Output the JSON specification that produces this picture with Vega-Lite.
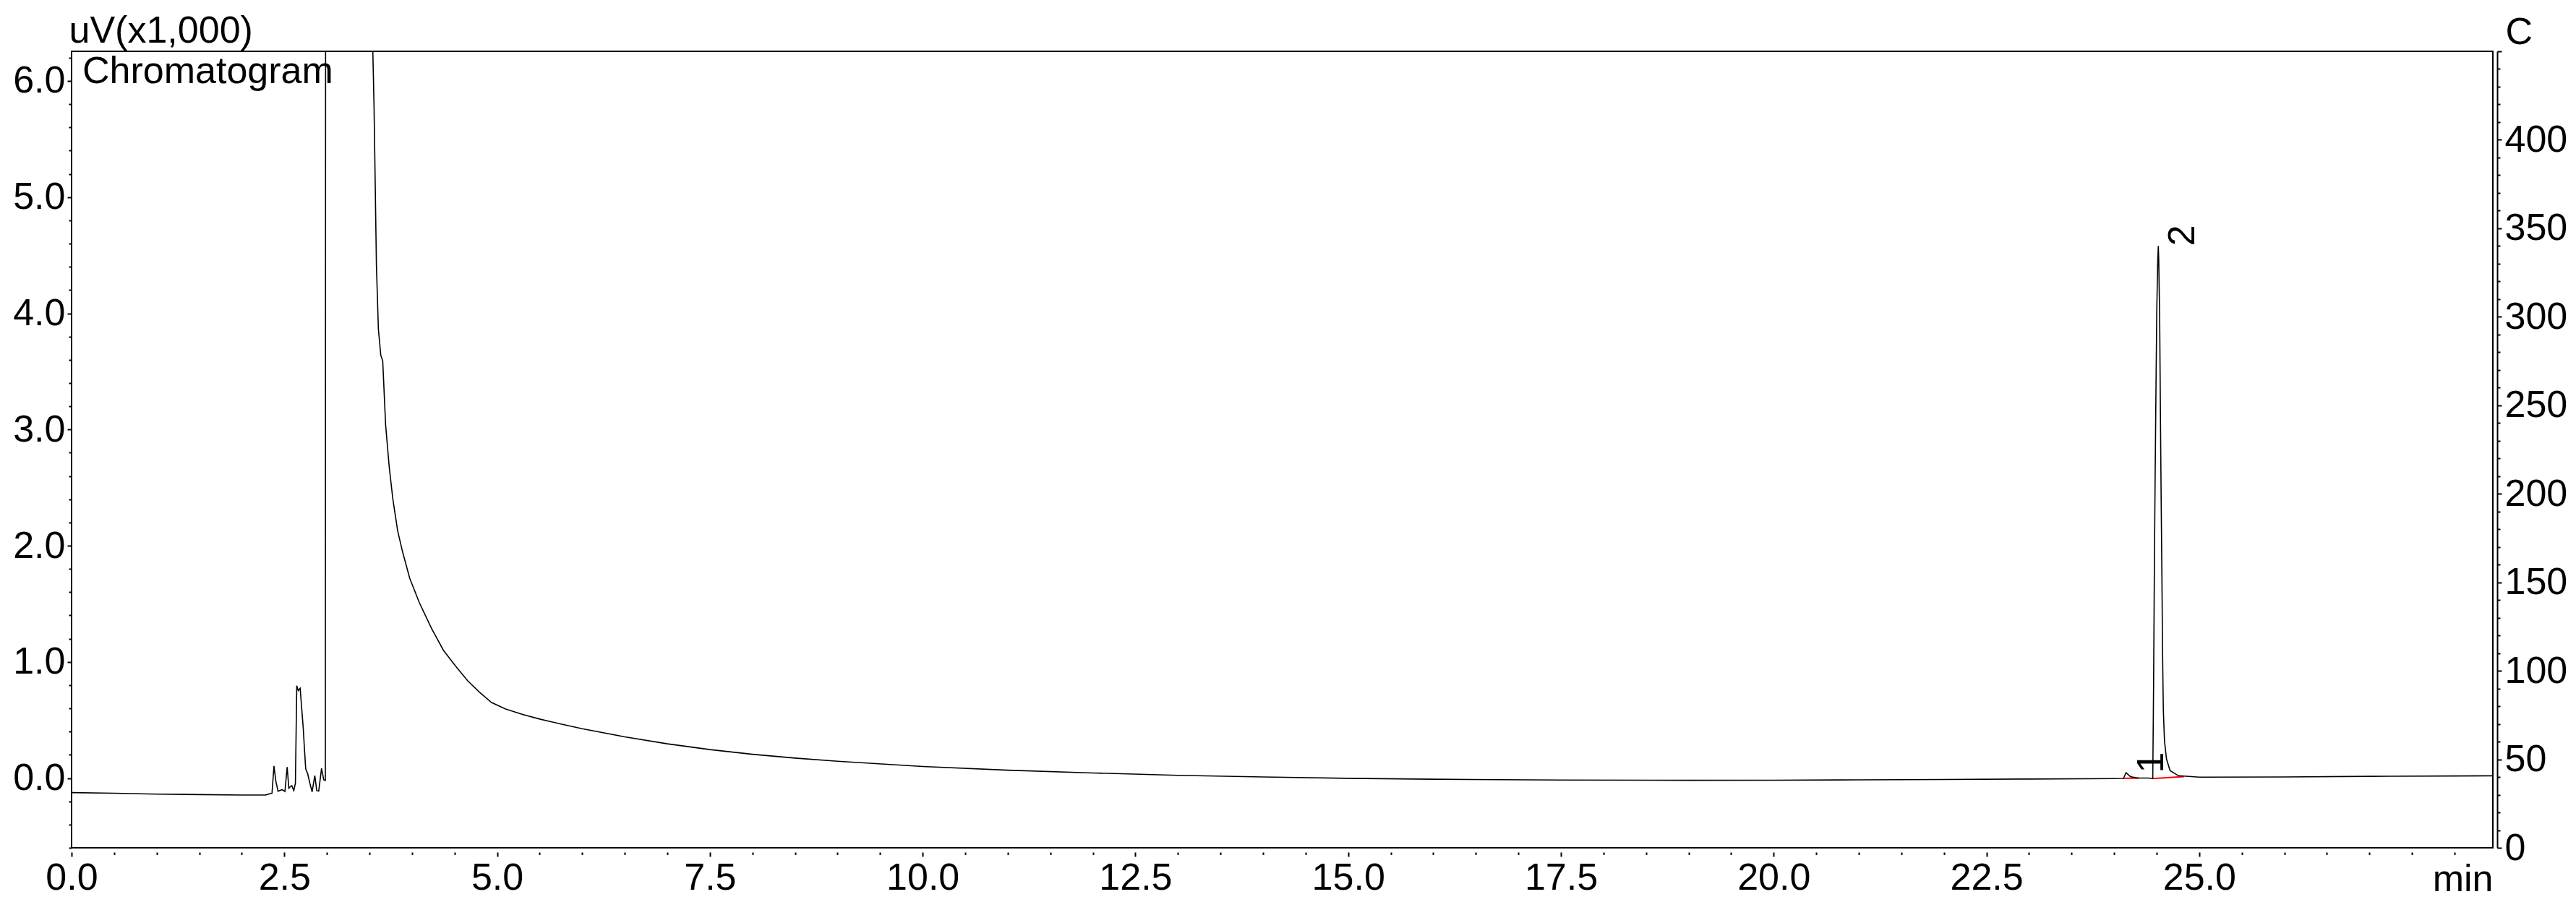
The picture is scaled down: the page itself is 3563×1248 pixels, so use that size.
{
  "$schema": "https://vega.github.io/schema/vega-lite/v6.json",
  "autosize": {"type": "none"},
  "width": 3349,
  "height": 1102,
  "padding": {"left": 99, "top": 71, "right": 115, "bottom": 75},
  "background": "white",
  "config": {
    "view": {"stroke": "black", "strokeWidth": 2},
    "font": "Liberation Sans",
    "axis": {"labelColor": "black", "tickColor": "black", "domainColor": "black", "titleColor": "black", "titleFontWeight": "normal", "labelFont": "Liberation Sans", "titleFont": "Liberation Sans", "labelFontSize": 52, "titleFontSize": 52, "grid": false, "labelOverlap": false, "labelFlush": false, "tickWidth": 2}
  },
  "datasets": {
    "trace": [
      {"t": 0, "v": -0.125}, {"t": 0.5, "v": -0.13}, {"t": 1.0, "v": -0.138}, {"t": 1.5, "v": -0.142},
      {"t": 2.0, "v": -0.146}, {"t": 2.28, "v": -0.145}, {"t": 2.355, "v": -0.13}, {"t": 2.378, "v": 0.104},
      {"t": 2.4, "v": -0.025}, {"t": 2.426, "v": -0.114}, {"t": 2.45, "v": -0.105}, {"t": 2.475, "v": -0.1},
      {"t": 2.507, "v": -0.115}, {"t": 2.533, "v": 0.095}, {"t": 2.553, "v": -0.087}, {"t": 2.575, "v": -0.07},
      {"t": 2.588, "v": -0.066}, {"t": 2.611, "v": -0.108}, {"t": 2.63, "v": -0.045}, {"t": 2.646, "v": 0.795},
      {"t": 2.664, "v": 0.753}, {"t": 2.686, "v": 0.773}, {"t": 2.702, "v": 0.618}, {"t": 2.722, "v": 0.431},
      {"t": 2.735, "v": 0.266}, {"t": 2.751, "v": 0.079}, {"t": 2.774, "v": 0.037}, {"t": 2.8, "v": -0.045},
      {"t": 2.826, "v": -0.118}, {"t": 2.858, "v": 0.021}, {"t": 2.881, "v": -0.108}, {"t": 2.904, "v": -0.112},
      {"t": 2.937, "v": 0.083}, {"t": 2.963, "v": -0.015}, {"t": 2.982, "v": -0.02}, {"t": 2.995, "v": 30},
      {"t": 3.53, "v": 30}, {"t": 3.54, "v": 6.25}, {"t": 3.554, "v": 5.78}, {"t": 3.568, "v": 5.1},
      {"t": 3.582, "v": 4.41}, {"t": 3.605, "v": 3.865}, {"t": 3.633, "v": 3.64}, {"t": 3.656, "v": 3.59},
      {"t": 3.69, "v": 3.04}, {"t": 3.732, "v": 2.68}, {"t": 3.775, "v": 2.4}, {"t": 3.831, "v": 2.13},
      {"t": 3.888, "v": 1.95}, {"t": 3.973, "v": 1.72}, {"t": 4.086, "v": 1.51}, {"t": 4.228, "v": 1.29},
      {"t": 4.369, "v": 1.1}, {"t": 4.51, "v": 0.966}, {"t": 4.653, "v": 0.838}, {"t": 4.794, "v": 0.738},
      {"t": 4.935, "v": 0.65}, {"t": 5.1, "v": 0.595}, {"t": 5.3, "v": 0.548}, {"t": 5.5, "v": 0.508},
      {"t": 5.75, "v": 0.465}, {"t": 6.0, "v": 0.425}, {"t": 6.5, "v": 0.355}, {"t": 7.0, "v": 0.295},
      {"t": 7.5, "v": 0.245}, {"t": 8.0, "v": 0.205}, {"t": 8.5, "v": 0.172}, {"t": 9.0, "v": 0.145},
      {"t": 10.0, "v": 0.1}, {"t": 11.0, "v": 0.068}, {"t": 12.0, "v": 0.044}, {"t": 13.0, "v": 0.024},
      {"t": 14.0, "v": 0.01}, {"t": 15.0, "v": -0.002}, {"t": 16.0, "v": -0.01},
      {"t": 17.5, "v": -0.017}, {"t": 19.0, "v": -0.019}, {"t": 20.0, "v": -0.018},
      {"t": 21.0, "v": -0.015}, {"t": 22.0, "v": -0.012}, {"t": 23.0, "v": -0.008}, {"t": 24.0, "v": -0.004},
      {"t": 24.11, "v": -0.003}, {"t": 24.14, "v": 0.047}, {"t": 24.19, "v": 0.013}, {"t": 24.275, "v": 0.0},
      {"t": 24.4, "v": 0.0}, {"t": 24.454, "v": -0.004}, {"t": 24.465, "v": 0.924}, {"t": 24.473, "v": 1.834},
      {"t": 24.482, "v": 2.61}, {"t": 24.493, "v": 3.45}, {"t": 24.502, "v": 4.06}, {"t": 24.513, "v": 4.465},
      {"t": 24.519, "v": 4.58}, {"t": 24.524, "v": 4.465}, {"t": 24.535, "v": 3.96}, {"t": 24.544, "v": 3.12},
      {"t": 24.552, "v": 2.44}, {"t": 24.561, "v": 1.77}, {"t": 24.569, "v": 1.09}, {"t": 24.578, "v": 0.587},
      {"t": 24.592, "v": 0.317}, {"t": 24.615, "v": 0.165}, {"t": 24.657, "v": 0.064}, {"t": 24.756, "v": 0.02},
      {"t": 25.0, "v": 0.008}, {"t": 26.0, "v": 0.01}, {"t": 27.0, "v": 0.015}, {"t": 28.0, "v": 0.018},
      {"t": 28.45, "v": 0.02}
    ],
    "baselines": [
      {"seg": "p1", "t": 24.1, "v": -0.003}, {"seg": "p1", "t": 24.29, "v": 0.0},
      {"seg": "p2", "t": 24.45, "v": -0.004}, {"seg": "p2", "t": 24.82, "v": 0.012}
    ],
    "peaks": [
      {"lab": "1", "t": 24.575, "v": 0.044},
      {"lab": "2", "t": 24.94, "v": 4.58}
    ]
  },
  "resolve": {"axis": {"x": "independent", "y": "independent"}},
  "layer": [
    {
      "data": {"name": "baselines"},
      "mark": {"type": "line", "color": "#ff0000", "strokeWidth": 2, "clip": true},
      "encoding": {
        "x": {"field": "t", "type": "quantitative", "scale": {"domain": [0, 28.45], "nice": false, "zero": false}, "axis": null},
        "y": {"field": "v", "type": "quantitative", "scale": {"domain": [-0.6, 6.255], "nice": false, "zero": false}, "axis": null},
        "detail": {"field": "seg"}
      }
    },
    {
      "data": {"name": "trace"},
      "mark": {"type": "line", "color": "black", "strokeWidth": 1.6, "clip": true, "interpolate": "linear"},
      "encoding": {
        "x": {
          "field": "t", "type": "quantitative",
          "scale": {"domain": [0, 28.45], "nice": false, "zero": false},
          "axis": {
            "title": "min",
            "values": [0,0.5,1,1.5,2,2.5,3,3.5,4,4.5,5,5.5,6,6.5,7,7.5,8,8.5,9,9.5,10,10.5,11,11.5,12,12.5,13,13.5,14,14.5,15,15.5,16,16.5,17,17.5,18,18.5,19,19.5,20,20.5,21,21.5,22,22.5,23,23.5,24,24.5,25,25.5,26,26.5,27,27.5,28],
            "labelExpr": "datum.value <= 25 && abs(datum.value/2.5 - round(datum.value/2.5)) < 0.001 ? format(datum.value, '.1f') : ''",
            "tickSize": {"condition": {"test": "datum.value <= 25 && abs(datum.value/2.5 - round(datum.value/2.5)) < 0.001", "value": 6}, "value": 3.5},
            "labelOverlap": false,
            "offset": 6,
            "domain": false,
            "labelPadding": 4,
            "titleAlign": "right",
            "titleAnchor": "end",
            "titleX": 3349,
            "titleY": 53,
            "titleBaseline": "alphabetic"
          }
        },
        "y": {
          "field": "v", "type": "quantitative",
          "scale": {"domain": [-0.6, 6.255], "nice": false, "zero": false},
          "axis": {
            "title": "uV(x1,000)",
            "values": [-0.6,-0.4,-0.2,0,0.2,0.4,0.6,0.8,1,1.2,1.4,1.6,1.8,2,2.2,2.4,2.6,2.8,3,3.2,3.4,3.6,3.8,4,4.2,4.4,4.6,4.8,5,5.2,5.4,5.6,5.8,6,6.2],
            "labelExpr": "abs(datum.value - round(datum.value)) < 0.001 ? format(datum.value, '.1f') : ''",
            "tickSize": {"condition": {"test": "abs(datum.value - round(datum.value)) < 0.001", "value": 6}, "value": 4},
            "labelOverlap": false,
            "domain": false,
            "labelPadding": 3,
            "titleAngle": 0,
            "titleAlign": "left",
            "titleAnchor": "start",
            "titleBaseline": "alphabetic",
            "titleX": -4,
            "titleY": -12.5
          }
        }
      }
    },
    {
      "data": {"name": "peaks"},
      "mark": {"type": "text", "angle": 270, "align": "left", "baseline": "alphabetic", "fontSize": 52, "font": "Liberation Sans", "color": "black"},
      "encoding": {
        "x": {"field": "t", "type": "quantitative", "axis": null},
        "y": {"field": "v", "type": "quantitative", "axis": null},
        "text": {"field": "lab"}
      }
    },
    {
      "data": {"values": [{"name": "Chromatogram"}]},
      "mark": {"type": "text", "align": "left", "baseline": "alphabetic", "fontSize": 52, "font": "Liberation Sans", "color": "black", "dx": 15, "dy": 44},
      "encoding": {
        "x": {"datum": 0, "type": "quantitative", "axis": null},
        "y": {
          "datum": 6.255, "type": "quantitative",
          "axis": {
            "orient": "right",
            "title": "C",
            "values": [-0.6,-0.44767,-0.29533,-0.143,0.00933,0.16167,0.314,0.46633,0.61867,0.771,0.92333,1.07567,1.228,1.38033,1.53267,1.685,1.83733,1.98967,2.142,2.29433,2.44667,2.599,2.75133,2.90367,3.056,3.20833,3.36067,3.513,3.66533,3.81767,3.97,4.12233,4.27467,4.427,4.57933,4.73167,4.884,5.03633,5.18867,5.341,5.49333,5.64567,5.798,5.95033,6.10267,6.255],
            "labelExpr": "(round((datum.value + 0.6) * 450 / 6.855) % 50 === 0 && round((datum.value + 0.6) * 450 / 6.855) < 450) ? format(round((datum.value + 0.6) * 450 / 6.855), 'd') : ''",
            "tickSize": {"condition": {"test": "round((datum.value + 0.6) * 450 / 6.855) % 50 === 0", "value": 6}, "value": 4},
            "labelOverlap": false,
            "offset": 6,
            "domain": true,
            "domainWidth": 2,
            "labelPadding": 4,
            "titleAngle": 0,
            "titleAlign": "left",
            "titleAnchor": "start",
            "titleBaseline": "alphabetic",
            "titleX": 11,
            "titleY": -10.7
          }
        },
        "text": {"field": "name"}
      }
    }
  ]
}
